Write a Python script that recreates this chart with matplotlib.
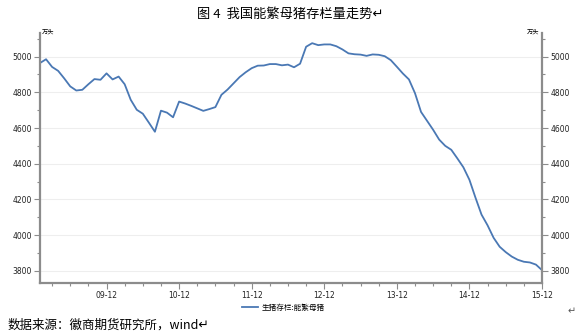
import matplotlib
matplotlib.use("Agg")
import matplotlib.pyplot as plt
import numpy as np

plt.rcParams['font.family'] = ['Noto Sans CJK SC', 'DejaVu Sans']

title = "图 4  我国能繁母猪存栏量走势"
source = "数据来源：徽商期货研究所，wind"
series_name = "生猪存栏:能繁母猪"
unit = "万头"

# monthly data, 2009-01 .. 2015-12
values = [4964, 4985, 4942, 4920, 4878, 4833, 4810, 4814, 4845, 4874, 4870, 4906,
          4872, 4888, 4845, 4758, 4702, 4680, 4630, 4579, 4697, 4686, 4660, 4748,
          4737, 4724, 4710, 4696, 4706, 4717, 4786, 4815, 4850, 4885, 4912, 4935,
          4949, 4950, 4958, 4958, 4951, 4955, 4940, 4960, 5055, 5075, 5064, 5068,
          5068, 5058, 5040, 5018, 5013, 5011, 5004, 5012, 5010, 5002, 4980, 4943,
          4905, 4872, 4795, 4690, 4640, 4590, 4535, 4500, 4478, 4430, 4380, 4310,
          4210, 4115, 4055, 3985, 3935, 3905, 3880, 3862, 3851, 3847, 3835, 3804]
xtick_labels = ["09-12", "10-12", "11-12", "12-12", "13-12", "14-12", "15-12"]
yticks = [3800, 4000, 4200, 4400, 4600, 4800, 5000]

W, H = 581, 336
fig = plt.figure(figsize=(W/100, H/100), dpi=100)
fig.patch.set_facecolor("white")

L, R, B, T = 40, 542, 283, 33
ax = fig.add_axes([L/W, 1-B/H, (R-L)/W, (B-T)/H])
x = np.arange(len(values))
ax.plot(x, values, color="#4a78b4", lw=1.3, solid_joinstyle="round", label=series_name)
ax.set_xlim(0, len(values)-1)
ax.set_ylim(3732, 5132)

spine_c = "#8c8c8c"
ax.spines["top"].set_visible(False)
for s in ["left", "right", "bottom"]:
    ax.spines[s].set_color(spine_c)
    ax.spines[s].set_linewidth(1.6)

maj = [11 + 12*i for i in range(len(xtick_labels))]
ax.set_xticks(maj)
ax.set_xticklabels(xtick_labels, fontsize=5.5, family=['DejaVu Sans'], color="#222222")
ax.set_xticks([m for m in range(2, len(values), 3) if m not in maj], minor=True)
ax.set_yticks(yticks)
ax.set_yticklabels([str(v) for v in yticks], fontsize=5.5, family=['DejaVu Sans'], color="#222222")
ax.set_yticks([v for v in range(3900, 5101, 200)], minor=True)
ax.tick_params(axis="both", which="major", length=4, width=0.8, color=spine_c, pad=2)
ax.tick_params(axis="both", which="minor", length=2.5, width=0.8, color=spine_c)
ax.tick_params(axis="y", which="both", left=True, right=True, labelleft=True, labelright=True)
ax.grid(axis="y", which="major", color="#eeeeee", lw=0.8)
ax.set_axisbelow(True)

fig.text(42/W, 1-32/H, unit, fontsize=4.5, ha="left", va="center")
fig.text(539/W, 1-32/H, unit, fontsize=4.5, ha="right", va="center")

t = fig.text(290/W, 1-14/H, title + "↵", fontsize=9.5, ha="center", va="center")
fig.text(8/W, 1-325/H, source + "↵", fontsize=9, ha="left", va="center")
fig.text(572/W, 1-311/H, "↵", fontsize=7, ha="center", va="center", color="#555555")

ax.legend(loc="center", bbox_to_anchor=(283/W, 1-308/H), bbox_transform=fig.transFigure,
          frameon=False, fontsize=5.5, handlelength=2.2, handletextpad=0.4)

fig.savefig("out.png", dpi=100, facecolor="white")
